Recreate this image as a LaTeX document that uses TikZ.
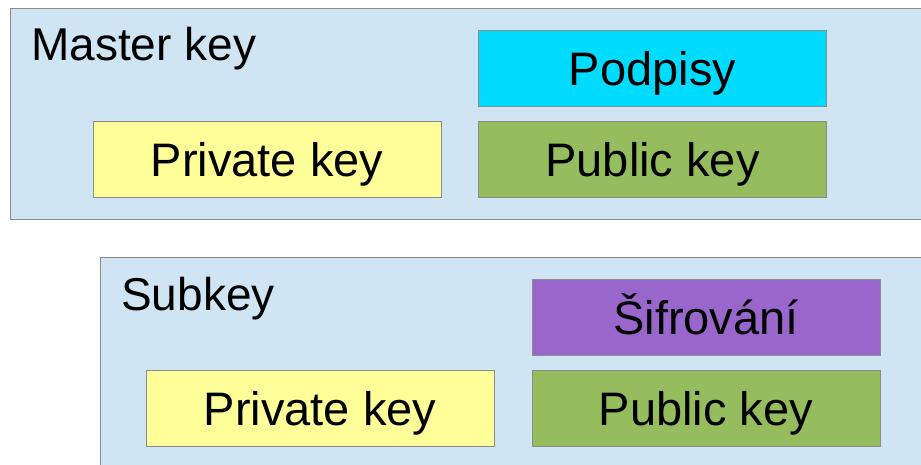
\documentclass[tikz,border=0pt]{standalone}
\usepackage{fontspec}
\setmainfont{Liberation Sans}
\usetikzlibrary{positioning}
\definecolor{keybg}{HTML}{CFE5F3}
\definecolor{privfill}{HTML}{FFFF99}
\definecolor{signfill}{HTML}{00DCFF}
\definecolor{pubfill}{HTML}{95BD5E}
\definecolor{encfill}{HTML}{9966CC}
\definecolor{edgegray}{HTML}{8A8A8A}

\begin{document}
\begin{tikzpicture}[x=1pt, y=-1pt,
    keyarea/.style={fill=keybg, draw=edgegray, line width=1pt},
    keypart/.style={draw=edgegray, line width=1pt, inner sep=0pt,
      minimum width=348pt, minimum height=76pt,
      text height=34pt, text depth=0pt,
      font=\fontsize{47}{56}\selectfont},
    arealabel/.style={anchor=base west, inner sep=0pt,
      font=\fontsize{46}{55}\selectfont}]
  \useasboundingbox (0,0) rectangle (921,464);
  \clip (0,0) rectangle (921,464);

  % master key area
  \draw[keyarea] (10,8) rectangle (940,219);
  \node[arealabel] (mastertitle) at (31,60) {Master key};
  \node[keypart, fill=signfill] (mastersign) at (652.5,68) {Podpisy};
  \node[keypart, fill=pubfill] (masterpub) at (652.5,159) {Public key};
  \node[keypart, fill=privfill] (masterpriv) at (267,159) {Private key};

  % subkey area
  \draw[keyarea] (100,257) rectangle (940,480);
  \node[arealabel] (subtitle) at (121,310) {Subkey};
  \node[keypart, fill=encfill] (subenc) at (706,317.5) {Šifrování};
  \node[keypart, fill=pubfill] (subpub) at (706,408.5) {Public key};
  \node[keypart, fill=privfill] (subpriv) at (320,408.5) {Private key};
\end{tikzpicture}
\end{document}
